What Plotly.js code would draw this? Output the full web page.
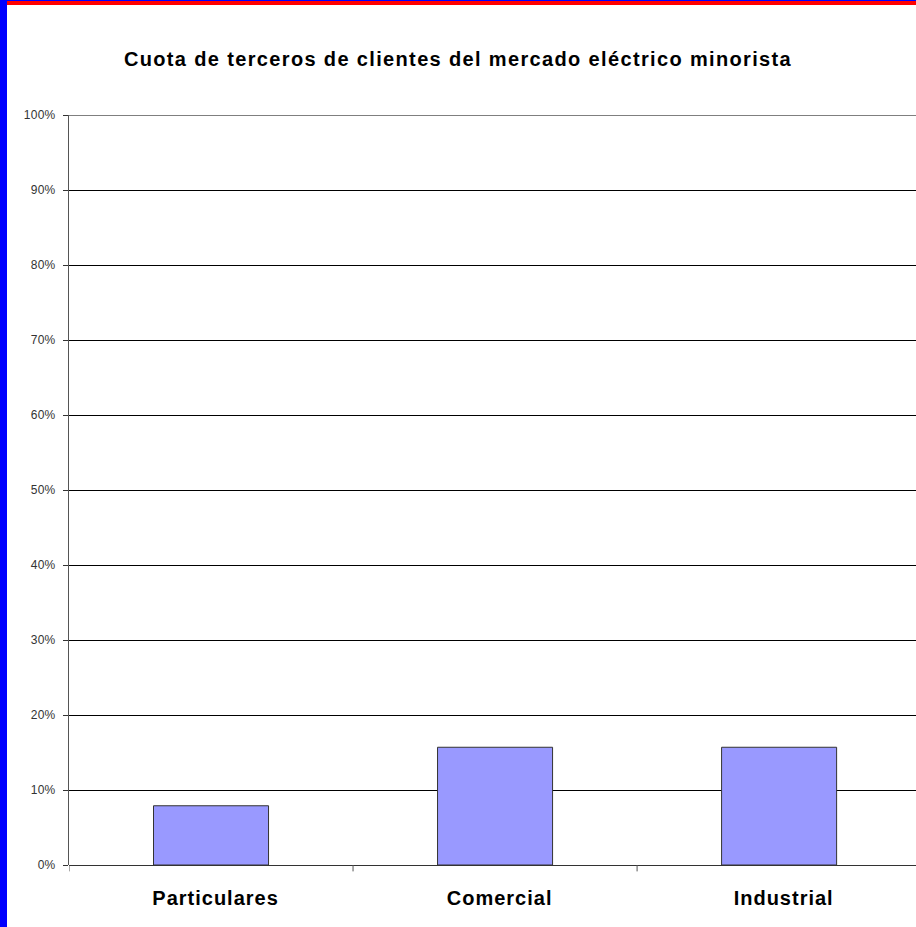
<!DOCTYPE html>
<html>
<head>
<meta charset="utf-8">
<script src="https://cdn.plot.ly/plotly-3.0.1.min.js"></script>
<style>
html,body{margin:0;padding:0;background:#fff;}
#wrap{position:relative;width:916px;height:927px;overflow:hidden;}
#chart{position:absolute;left:0;top:0;width:916px;height:927px;}
#leftbar{position:absolute;left:0;top:0;width:7px;height:927px;background:#0000ff;z-index:5;}
#topbar{position:absolute;left:0;top:0;width:916px;height:5px;background:#ff0000;z-index:4;}
#topline{position:absolute;left:0;top:0;width:916px;height:1px;background:#0000ff;z-index:6;}
.gtitle{letter-spacing:1.35px;}
.xtick text{letter-spacing:1.0px;}
.ytick text{letter-spacing:0.3px;}
</style>
</head>
<body>
<div id="wrap">
<div id="chart"></div>
<div id="topbar"></div>
<div id="topline"></div>
<div id="leftbar"></div>
</div>
<script>
const categories = ["Particulares", "Comercial", "Industrial"];
const values = [0.079, 0.157, 0.157];
const titleText = "Cuota de terceros de clientes del mercado eléctrico minorista";
const yTickVals = [0, 0.1, 0.2, 0.3, 0.4, 0.5, 0.6, 0.7, 0.8, 0.9, 1.0];
const yTickText = ["0%", "10%", "20%", "30%", "40%", "50%", "60%", "70%", "80%", "90%", "100%"];

const catPos = categories.map((c, i) => i);
const labelOffset = 0.016; // small rightward nudge of the category labels

const trace = {
  type: "bar",
  x: catPos,
  y: values,
  width: 0.405,
  marker: {color: "#9999ff", line: {color: "#333333", width: 1}},
  hoverinfo: "skip"
};

const shapes = [];
// category divider ticks below the axis
for (let i = 0; i <= categories.length; i++) {
  shapes.push({type: "line", xref: "x", yref: "paper", x0: i - 0.5, x1: i - 0.5,
    y0: 0, y1: -0.0085, line: {color: "#555555", width: 1}});
}
// top gridline at the max of the range
shapes.push({type: "line", xref: "paper", yref: "y", x0: 0, x1: 1,
  y0: yTickVals[yTickVals.length - 1], y1: yTickVals[yTickVals.length - 1],
  line: {color: "#000000", width: 1}, layer: "below"});

const layout = {
  width: 916, height: 927,
  margin: {l: 69, r: 0, t: 115, b: 62},
  paper_bgcolor: "#ffffff", plot_bgcolor: "#ffffff",
  showlegend: false,
  title: {text: "<b>" + titleText + "</b>", x: 0.5, xanchor: "center", y: 0.936, yanchor: "middle",
    font: {family: "Liberation Sans, Arial, sans-serif", size: 20, color: "#000000"}},
  xaxis: {
    range: [-0.5, 2.482],
    tickvals: catPos.map(p => p + labelOffset),
    ticktext: categories.map(c => "<b>" + c + "</b>"),
    ticks: "", showgrid: false, zeroline: false,
    showline: false,
    tickfont: {family: "Liberation Sans, Arial, sans-serif", size: 20, color: "#000000"},
    ticklabelstandoff: 19,
    fixedrange: true
  },
  yaxis: {
    range: [0, 1.0],
    tickvals: yTickVals, ticktext: yTickText,
    ticks: "outside", ticklen: 5, tickcolor: "#333333", tickwidth: 1,
    showgrid: true, gridcolor: "#000000", gridwidth: 1,
    zeroline: true, zerolinecolor: "#333333", zerolinewidth: 1,
    showline: true, linecolor: "#555555", linewidth: 1,
    tickfont: {family: "Liberation Sans, Arial, sans-serif", size: 12, color: "#333333"},
    ticklabelstandoff: 5,
    fixedrange: true
  },
  shapes: shapes,
  bargap: 0
};

Plotly.newPlot("chart", [trace], layout, {staticPlot: true, displayModeBar: false});
</script>
</body>
</html>
